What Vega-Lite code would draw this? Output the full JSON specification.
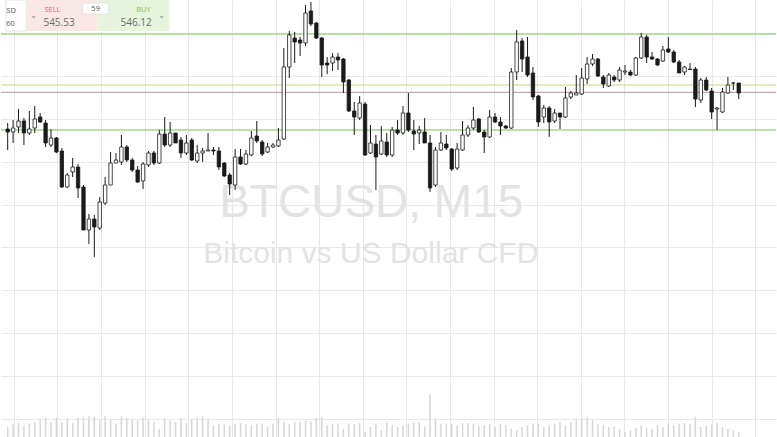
{
  "$schema": "https://vega.github.io/schema/vega-lite/v6.json",
  "width": 777,
  "height": 437,
  "autosize": {"type": "fit", "contains": "padding"},
  "padding": 0,
  "background": "#ffffff",
  "config": {
    "view": {"stroke": null},
    "axis": {"labels": false, "ticks": false, "domain": false, "title": null, "gridColor": "#e8e8e8", "gridWidth": 1, "minExtent": 0, "maxExtent": 0, "offset": 0, "labelPadding": 0, "tickSize": 0}
  },
  "datasets": {
    "candles": [
      {"t":0,"o":541.4,"h":542.0,"l":539.3,"c":541.1,"v":100},
      {"t":1,"o":541.1,"h":542.3,"l":540.0,"c":541.5,"v":133},
      {"t":2,"o":541.6,"h":543.4,"l":541.0,"c":542.2,"v":140},
      {"t":3,"o":542.2,"h":542.5,"l":539.8,"c":541.0,"v":117},
      {"t":4,"o":541.0,"h":543.2,"l":540.8,"c":541.4,"v":133},
      {"t":5,"o":541.5,"h":543.7,"l":541.0,"c":542.4,"v":150},
      {"t":6,"o":542.6,"h":543.0,"l":542.0,"c":542.1,"v":183},
      {"t":7,"o":542.0,"h":542.3,"l":539.6,"c":540.0,"v":193},
      {"t":8,"o":539.8,"h":541.4,"l":539.6,"c":540.5,"v":150},
      {"t":9,"o":540.5,"h":540.6,"l":539.0,"c":539.1,"v":193},
      {"t":10,"o":539.2,"h":539.5,"l":535.5,"c":535.6,"v":150},
      {"t":11,"o":535.6,"h":537.0,"l":535.5,"c":536.8,"v":193},
      {"t":12,"o":537.1,"h":538.5,"l":536.6,"c":537.6,"v":140},
      {"t":13,"o":537.6,"h":537.9,"l":534.5,"c":535.5,"v":193},
      {"t":14,"o":535.6,"h":535.8,"l":531.3,"c":531.3,"v":200},
      {"t":15,"o":531.3,"h":532.9,"l":529.9,"c":532.4,"v":207},
      {"t":16,"o":532.4,"h":532.8,"l":528.6,"c":531.6,"v":200},
      {"t":17,"o":531.5,"h":534.6,"l":531.3,"c":534.1,"v":167},
      {"t":18,"o":534.0,"h":536.6,"l":533.8,"c":535.8,"v":207},
      {"t":19,"o":535.8,"h":539.1,"l":535.8,"c":538.0,"v":173},
      {"t":20,"o":538.0,"h":539.0,"l":538.0,"c":538.3,"v":133},
      {"t":21,"o":538.1,"h":540.8,"l":537.8,"c":539.6,"v":207},
      {"t":22,"o":539.6,"h":539.8,"l":538.1,"c":538.3,"v":193},
      {"t":23,"o":538.3,"h":538.5,"l":537.1,"c":537.3,"v":173},
      {"t":24,"o":537.3,"h":537.7,"l":536.0,"c":536.1,"v":167},
      {"t":25,"o":536.2,"h":538.1,"l":535.4,"c":537.9,"v":193},
      {"t":26,"o":537.8,"h":539.2,"l":537.6,"c":539.0,"v":173},
      {"t":27,"o":539.0,"h":539.2,"l":537.8,"c":538.0,"v":150},
      {"t":28,"o":538.0,"h":541.3,"l":537.9,"c":540.9,"v":83},
      {"t":29,"o":540.9,"h":542.6,"l":539.6,"c":539.8,"v":193},
      {"t":30,"o":539.8,"h":542.1,"l":539.6,"c":541.0,"v":167},
      {"t":31,"o":541.0,"h":541.0,"l":540.0,"c":540.0,"v":150},
      {"t":32,"o":540.3,"h":540.6,"l":538.5,"c":539.0,"v":193},
      {"t":33,"o":539.0,"h":540.8,"l":538.8,"c":540.0,"v":140},
      {"t":34,"o":540.3,"h":540.5,"l":538.2,"c":538.3,"v":173},
      {"t":35,"o":538.2,"h":539.8,"l":538.0,"c":539.0,"v":193},
      {"t":36,"o":539.0,"h":539.5,"l":538.1,"c":539.2,"v":207},
      {"t":37,"o":539.2,"h":541.0,"l":539.2,"c":539.3,"v":183},
      {"t":38,"o":539.3,"h":539.6,"l":538.8,"c":539.2,"v":117},
      {"t":39,"o":539.2,"h":539.6,"l":537.3,"c":537.6,"v":127},
      {"t":40,"o":538.0,"h":538.1,"l":536.6,"c":536.7,"v":127},
      {"t":41,"o":536.8,"h":537.0,"l":534.8,"c":535.9,"v":117},
      {"t":42,"o":535.8,"h":539.4,"l":535.3,"c":538.6,"v":133},
      {"t":43,"o":538.6,"h":539.4,"l":537.8,"c":537.9,"v":140},
      {"t":44,"o":537.9,"h":539.3,"l":537.8,"c":538.9,"v":127},
      {"t":45,"o":538.8,"h":541.2,"l":538.7,"c":540.5,"v":117},
      {"t":46,"o":540.7,"h":542.2,"l":540.0,"c":540.2,"v":133},
      {"t":47,"o":540.1,"h":540.3,"l":538.7,"c":538.9,"v":127},
      {"t":48,"o":539.1,"h":540.0,"l":539.0,"c":539.6,"v":100},
      {"t":49,"o":539.6,"h":540.0,"l":539.5,"c":539.8,"v":133},
      {"t":50,"o":539.7,"h":541.5,"l":539.6,"c":540.3,"v":193},
      {"t":51,"o":540.4,"h":549.5,"l":540.3,"c":547.6,"v":150},
      {"t":52,"o":547.6,"h":551.2,"l":546.5,"c":550.8,"v":133},
      {"t":53,"o":550.5,"h":551.1,"l":548.0,"c":550.1,"v":150},
      {"t":54,"o":550.3,"h":550.6,"l":548.7,"c":550.0,"v":150},
      {"t":55,"o":550.0,"h":553.8,"l":549.7,"c":553.0,"v":160},
      {"t":56,"o":553.2,"h":554.1,"l":551.7,"c":551.9,"v":150},
      {"t":57,"o":552.0,"h":552.1,"l":550.4,"c":550.5,"v":193},
      {"t":58,"o":550.5,"h":550.6,"l":546.6,"c":547.8,"v":200},
      {"t":59,"o":548.0,"h":548.6,"l":546.9,"c":547.8,"v":117},
      {"t":60,"o":548.0,"h":549.0,"l":547.2,"c":548.6,"v":127},
      {"t":61,"o":548.6,"h":549.0,"l":547.3,"c":548.3,"v":133},
      {"t":62,"o":548.4,"h":548.5,"l":545.0,"c":546.1,"v":83},
      {"t":63,"o":546.3,"h":546.4,"l":543.1,"c":543.2,"v":133},
      {"t":64,"o":543.2,"h":544.1,"l":540.8,"c":542.6,"v":127},
      {"t":65,"o":542.5,"h":544.7,"l":542.3,"c":544.0,"v":140},
      {"t":66,"o":543.9,"h":544.1,"l":538.7,"c":538.8,"v":50},
      {"t":67,"o":539.0,"h":541.8,"l":538.9,"c":540.0,"v":100},
      {"t":68,"o":539.9,"h":540.8,"l":535.3,"c":538.6,"v":133},
      {"t":69,"o":538.9,"h":541.7,"l":538.8,"c":540.2,"v":67},
      {"t":70,"o":540.1,"h":541.0,"l":538.6,"c":538.8,"v":140},
      {"t":71,"o":538.8,"h":541.6,"l":538.6,"c":541.3,"v":117},
      {"t":72,"o":541.3,"h":542.3,"l":540.8,"c":541.0,"v":100},
      {"t":73,"o":541.0,"h":543.7,"l":540.8,"c":543.0,"v":117},
      {"t":74,"o":543.0,"h":545.0,"l":541.1,"c":541.3,"v":133},
      {"t":75,"o":541.2,"h":542.3,"l":539.3,"c":540.9,"v":140},
      {"t":76,"o":541.0,"h":541.7,"l":539.9,"c":541.3,"v":150},
      {"t":77,"o":541.1,"h":542.5,"l":540.0,"c":540.0,"v":107},
      {"t":78,"o":540.0,"h":540.8,"l":535.1,"c":535.5,"v":427},
      {"t":79,"o":535.8,"h":539.6,"l":535.6,"c":539.3,"v":183},
      {"t":80,"o":539.3,"h":541.1,"l":539.2,"c":540.0,"v":133},
      {"t":81,"o":539.9,"h":540.8,"l":539.3,"c":539.5,"v":127},
      {"t":82,"o":539.4,"h":539.5,"l":537.2,"c":537.4,"v":133},
      {"t":83,"o":537.5,"h":540.0,"l":537.3,"c":539.4,"v":117},
      {"t":84,"o":539.3,"h":542.2,"l":539.2,"c":540.8,"v":140},
      {"t":85,"o":540.8,"h":541.8,"l":540.6,"c":541.5,"v":140},
      {"t":86,"o":541.5,"h":543.6,"l":541.3,"c":542.3,"v":133},
      {"t":87,"o":542.4,"h":542.5,"l":541.0,"c":541.1,"v":107},
      {"t":88,"o":541.1,"h":541.3,"l":539.0,"c":540.6,"v":117},
      {"t":89,"o":540.6,"h":543.3,"l":540.5,"c":542.6,"v":133},
      {"t":90,"o":542.6,"h":543.0,"l":542.0,"c":542.1,"v":100},
      {"t":91,"o":542.1,"h":542.6,"l":540.8,"c":541.7,"v":127},
      {"t":92,"o":541.7,"h":541.8,"l":541.4,"c":541.5,"v":117},
      {"t":93,"o":541.5,"h":547.5,"l":541.4,"c":547.1,"v":83},
      {"t":94,"o":547.1,"h":551.3,"l":546.3,"c":550.1,"v":67},
      {"t":95,"o":550.2,"h":550.5,"l":547.1,"c":548.4,"v":100},
      {"t":96,"o":548.6,"h":550.6,"l":546.6,"c":546.8,"v":117},
      {"t":97,"o":547.0,"h":547.6,"l":544.3,"c":544.6,"v":133},
      {"t":98,"o":544.7,"h":544.8,"l":541.6,"c":542.1,"v":133},
      {"t":99,"o":542.6,"h":543.8,"l":542.0,"c":543.5,"v":100},
      {"t":100,"o":543.5,"h":543.7,"l":540.6,"c":542.1,"v":117},
      {"t":101,"o":542.2,"h":543.4,"l":542.0,"c":543.0,"v":133},
      {"t":102,"o":543.0,"h":543.0,"l":541.4,"c":542.6,"v":150},
      {"t":103,"o":542.6,"h":545.6,"l":542.5,"c":544.5,"v":117},
      {"t":104,"o":544.6,"h":545.2,"l":544.4,"c":545.0,"v":150},
      {"t":105,"o":544.8,"h":546.8,"l":544.8,"c":545.0,"v":183},
      {"t":106,"o":544.9,"h":547.5,"l":544.8,"c":546.5,"v":193},
      {"t":107,"o":546.4,"h":548.6,"l":545.9,"c":547.9,"v":200},
      {"t":108,"o":547.9,"h":548.9,"l":547.7,"c":548.4,"v":167},
      {"t":109,"o":548.4,"h":548.5,"l":546.6,"c":546.7,"v":127},
      {"t":110,"o":546.6,"h":546.8,"l":545.5,"c":545.9,"v":117},
      {"t":111,"o":545.7,"h":547.0,"l":545.6,"c":546.8,"v":100},
      {"t":112,"o":546.6,"h":546.8,"l":546.1,"c":546.3,"v":107},
      {"t":113,"o":546.3,"h":547.6,"l":546.1,"c":547.3,"v":83},
      {"t":114,"o":547.1,"h":547.8,"l":546.8,"c":547.2,"v":50},
      {"t":115,"o":547.1,"h":547.3,"l":546.7,"c":546.8,"v":67},
      {"t":116,"o":546.8,"h":548.6,"l":546.7,"c":548.5,"v":93},
      {"t":117,"o":548.5,"h":551.0,"l":548.4,"c":550.6,"v":117},
      {"t":118,"o":550.6,"h":550.8,"l":548.0,"c":548.6,"v":93},
      {"t":119,"o":548.6,"h":549.1,"l":548.3,"c":548.4,"v":83},
      {"t":120,"o":548.4,"h":548.5,"l":547.7,"c":547.8,"v":117},
      {"t":121,"o":548.2,"h":549.7,"l":548.1,"c":549.3,"v":100},
      {"t":122,"o":549.4,"h":550.6,"l":549.0,"c":549.1,"v":133},
      {"t":123,"o":549.1,"h":549.3,"l":548.0,"c":548.1,"v":117},
      {"t":124,"o":548.1,"h":548.3,"l":547.0,"c":547.0,"v":133},
      {"t":125,"o":547.1,"h":547.7,"l":546.8,"c":547.6,"v":140},
      {"t":126,"o":547.4,"h":548.0,"l":547.3,"c":547.35,"v":127},
      {"t":127,"o":547.4,"h":547.6,"l":543.6,"c":544.4,"v":200},
      {"t":128,"o":544.3,"h":546.5,"l":544.0,"c":546.3,"v":100},
      {"t":129,"o":546.3,"h":546.6,"l":545.2,"c":545.3,"v":117},
      {"t":130,"o":545.2,"h":545.5,"l":542.4,"c":543.1,"v":127},
      {"t":131,"o":543.4,"h":543.6,"l":541.3,"c":543.5,"v":140},
      {"t":132,"o":543.1,"h":545.5,"l":543.0,"c":545.1,"v":100},
      {"t":133,"o":545.0,"h":546.6,"l":544.9,"c":545.8,"v":83},
      {"t":134,"o":546.0,"h":546.1,"l":545.3,"c":546.0,"v":67},
      {"t":135,"o":546.0,"h":546.0,"l":544.4,"c":545.0,"v":50}
    ],
    "levels": [
      {"level": 550.9, "kind": "resistance"},
      {"level": 545.8, "kind": "ask"},
      {"level": 545.07, "kind": "bid"},
      {"level": 541.3, "kind": "support"}
    ],
    "one": [{}]
  },
  "layer": [
    {
      "data": {"name": "candles"},
      "mark": {"type": "rule", "strokeWidth": 1.5, "color": "#d6d6d6", "clip": true},
      "encoding": {
        "x": {"field": "t", "type": "quantitative", "scale": {"domain": [-0.31, 140.96], "nice": false, "zero": false},
              "axis": {"grid": true, "values": [1.15,5.17,9.2,13.23,17.25,21.28,25.31,29.33,33.36,37.39,41.42,45.44,49.47,53.5,57.52,61.55,65.58,69.6,73.63,77.66,81.69,85.71,89.74,93.77,97.79,101.82,105.85,109.87,113.9,117.93,121.96,125.98,130.01,134.04,138.06]}},
        "y": {"field": "v", "type": "quantitative", "scale": {"domain": [0, 4370], "nice": false}, "axis": null},
        "y2": {"datum": 0}
      }
    },
    {
      "layer": [
        {
          "data": {"name": "one"},
          "mark": {"type": "text", "text": "BTCUSD, M15", "font": "Liberation Sans", "fontSize": 46, "color": "#e3e3e3", "align": "center", "baseline": "alphabetic"},
          "encoding": {"x": {"datum": 67.14}, "y": {"datum": 532.6}}
        },
        {
          "data": {"name": "one"},
          "mark": {"type": "text", "text": "Bitcoin vs US Dollar CFD", "font": "Liberation Sans", "fontSize": 30, "color": "#e3e3e3", "align": "center", "baseline": "alphabetic"},
          "encoding": {"x": {"datum": 67.05}, "y": {"datum": 528.0}}
        },
        {
          "data": {"name": "levels"},
          "mark": {"type": "rule", "strokeWidth": 1.3},
          "encoding": {
            "y": {"field": "level", "type": "quantitative"},
            "color": {"field": "kind", "type": "nominal", "legend": null,
                      "scale": {"domain": ["resistance", "ask", "bid", "support"], "range": ["#a6d68c", "#d8e4a4", "#c9a3b8", "#a6d68c"]}}
          }
        },
        {
          "data": {"name": "candles"},
          "mark": {"type": "rule", "strokeWidth": 1, "color": "#1a1a1a", "clip": true},
          "encoding": {
            "x": {"field": "t", "type": "quantitative", "scale": {"domain": [-0.31, 140.96], "nice": false, "zero": false}},
            "y": {"field": "h", "type": "quantitative", "scale": {"domain": [510.6, 554.3], "nice": false, "zero": false},
                  "axis": {"grid": true, "values": [553.1,550.96,548.82,546.68,544.54,542.4,540.26,538.12,535.98,533.84,531.7,529.56,527.42,525.28,523.14,521.0,518.86,516.72,514.58,512.44]}},
            "y2": {"field": "l"}
          }
        },
        {
          "data": {"name": "candles"},
          "mark": {"type": "bar", "width": 3.4, "stroke": "#1a1a1a", "strokeWidth": 0.8, "clip": true},
          "encoding": {
            "x": {"field": "t", "type": "quantitative"},
            "y": {"field": "o", "type": "quantitative"},
            "y2": {"field": "c"},
            "fill": {"condition": {"test": "datum.c < datum.o", "value": "#1a1a1a"}, "value": "#ffffff"}
          }
        },
        {
          "data": {"name": "one"},
          "mark": {"type": "rect", "fill": "#ffffff", "stroke": "#e2e2e2", "strokeWidth": 1, "clip": true},
          "encoding": {"x": {"datum": -0.31}, "x2": {"datum": 3.4}, "y": {"datum": 554.3}, "y2": {"datum": 551.2}}
        },
        {
          "data": {"name": "one"},
          "mark": {"type": "rect", "fill": "#fbe6e6", "clip": true},
          "encoding": {"x": {"datum": 3.51}, "x2": {"datum": 16.6}, "y": {"datum": 554.3}, "y2": {"datum": 551.2}}
        },
        {
          "data": {"name": "one"},
          "mark": {"type": "rect", "fill": "#e6f4db", "clip": true},
          "encoding": {"x": {"datum": 16.6}, "x2": {"datum": 29.87}, "y": {"datum": 554.3}, "y2": {"datum": 551.2}}
        },
        {
          "data": {"name": "one"},
          "mark": {"type": "rect", "fill": "#ffffff", "stroke": "#e0e0e0", "strokeWidth": 0.8},
          "encoding": {"x": {"datum": 13.87}, "x2": {"datum": 18.6}, "y": {"datum": 554.0}, "y2": {"datum": 552.9}}
        },
        {
          "data": {"name": "one"},
          "mark": {"type": "text", "text": "SELL", "font": "Open Sans", "fontSize": 7.5, "color": "#e06666", "align": "left", "baseline": "middle"},
          "encoding": {"x": {"datum": 6.78}, "y": {"datum": 553.3}}
        },
        {
          "data": {"name": "one"},
          "mark": {"type": "text", "text": "545.53", "font": "Open Sans", "fontSize": 10, "color": "#6d6d6d", "align": "left", "baseline": "middle"},
          "encoding": {"x": {"datum": 6.6}, "y": {"datum": 552.05}}
        },
        {
          "data": {"name": "one"},
          "mark": {"type": "text", "text": "59", "font": "Open Sans", "fontSize": 7.5, "color": "#555555", "align": "center", "baseline": "middle"},
          "encoding": {"x": {"datum": 16.24}, "y": {"datum": 553.45}}
        },
        {
          "data": {"name": "one"},
          "mark": {"type": "text", "text": "BUY", "font": "Open Sans", "fontSize": 7.5, "color": "#8bbf4a", "align": "right", "baseline": "middle"},
          "encoding": {"x": {"datum": 26.42}, "y": {"datum": 553.3}}
        },
        {
          "data": {"name": "one"},
          "mark": {"type": "text", "text": "546.12", "font": "Open Sans", "fontSize": 10, "color": "#6d6d6d", "align": "right", "baseline": "middle"},
          "encoding": {"x": {"datum": 26.6}, "y": {"datum": 552.05}}
        },
        {
          "data": {"name": "one"},
          "mark": {"type": "text", "text": "SD", "font": "Open Sans", "fontSize": 7.5, "color": "#555555", "align": "left", "baseline": "middle"},
          "encoding": {"x": {"datum": -0.25}, "y": {"datum": 553.2}}
        },
        {
          "data": {"name": "one"},
          "mark": {"type": "text", "text": "60", "font": "Open Sans", "fontSize": 7.5, "color": "#555555", "align": "left", "baseline": "middle"},
          "encoding": {"x": {"datum": -0.25}, "y": {"datum": 551.95}}
        },
        {
          "data": {"name": "one"},
          "mark": {"type": "text", "text": "⌄", "font": "DejaVu Sans", "fontSize": 9, "color": "#888888", "align": "center", "baseline": "middle"},
          "encoding": {"x": {"datum": 4.78}, "y": {"datum": 552.8}}
        },
        {
          "data": {"name": "one"},
          "mark": {"type": "text", "text": "⌄", "font": "DejaVu Sans", "fontSize": 9, "color": "#888888", "align": "center", "baseline": "middle"},
          "encoding": {"x": {"datum": 28.42}, "y": {"datum": 552.8}}
        }
      ]
    }
  ],
  "resolve": {"scale": {"y": "independent"}}
}
